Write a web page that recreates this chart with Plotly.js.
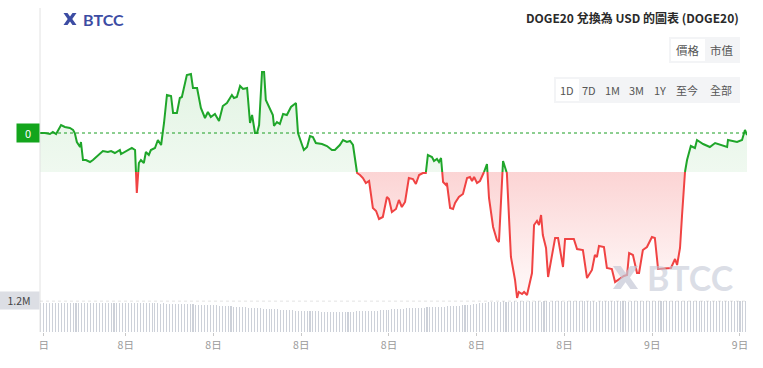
<!DOCTYPE html>
<html>
<head>
<meta charset="utf-8">
<script src="https://cdn.plot.ly/plotly-3.0.1.min.js"></script>
<style>
  html, body { margin: 0; padding: 0; background: #fff; }
  #chart { width: 763px; height: 368px; }
</style>
</head>
<body>
<div id="chart"></div>
<script>
// ---------------- DATA ----------------
// time in hours since 8日 00:00
const timeHours = [
  0.07,0.24,0.41,0.51,0.62,0.79,0.92,1.09,1.20,1.26,
  1.33,1.44,1.47,1.54,1.64,1.78,1.88,2.05,2.22,2.39,
  2.50,2.63,2.80,2.84,3.01,3.21,3.32,3.38,3.45,3.52,
  3.62,3.69,3.79,3.86,4.00,4.10,4.21,4.31,4.41,4.55,
  4.62,4.75,4.85,4.92,5.09,5.23,5.30,5.44,5.57,5.71,
  5.81,5.91,6.05,6.19,6.32,6.46,6.63,6.70,6.80,6.91,
  7.01,7.15,7.25,7.32,7.42,7.49,7.56,7.66,7.73,7.79,
  7.93,8.03,8.07,8.17,8.27,8.38,8.51,8.65,8.82,8.89,
  9.03,9.09,9.20,9.30,9.40,9.50,9.71,9.88,10.05,10.15,
  10.32,10.43,10.56,10.67,10.77,10.91,11.01,11.11,11.21,11.32,
  11.45,11.56,11.66,11.79,11.93,12.00,12.10,12.24,12.34,12.44,
  12.55,12.68,12.82,12.92,13.03,13.16,13.26,13.33,13.47,13.54,
  13.64,13.71,13.78,13.85,13.95,13.98,14.09,14.19,14.26,14.39,
  14.53,14.67,14.77,14.84,14.91,15.01,15.11,15.25,15.35,15.42,
  15.56,15.69,15.76,15.90,16.03,16.17,16.31,16.38,16.44,16.55,
  16.62,16.72,16.89,16.96,17.06,17.13,17.20,17.26,17.37,17.44,
  17.57,17.68,17.78,17.95,18.02,18.32,18.43,18.63,18.77,18.94,
  19.04,19.11,19.18,19.35,19.45,19.62,19.73,20.03,20.14,20.21,
  20.34,20.48,20.55,20.68,20.82,20.99,21.09,21.20,21.64,21.78,
  21.85,21.95,22.02,22.12,22.19,22.32,22.46,22.53,22.74,22.97,
  23.15,23.56,23.59,23.90,24.07,24.17,24.24
];
// price (relative units)
const priceValues = [
  167,167,166,168,166,175,173,172,170,167,
  158,153,158,140,140,138,140,145,149,148,
  149,147,150,146,149,152,150,107,137,140,
  137,148,145,150,152,160,155,177,205,204,
  187,187,202,203,225,226,212,212,192,182,
  188,183,186,179,194,197,205,202,203,214,
  211,212,177,185,167,167,175,228,228,200,
  192,185,174,178,176,186,185,193,197,167,
  155,150,153,164,163,157,156,154,150,150,
  155,160,158,159,155,127,125,122,117,119,
  92,89,81,83,103,101,88,91,100,93,
  98,122,121,116,125,127,127,145,143,139,
  141,138,142,118,115,117,92,91,97,103,
  106,122,123,119,123,117,119,128,136,102,
  73,60,58,139,127,43,20,2,8,6,
  8,5,27,75,79,75,85,65,52,23,
  45,62,62,33,61,61,51,50,22,30,
  45,43,54,53,32,31,18,24,25,47,
  45,27,27,50,53,63,62,31,32,41,
  35,52,85,128,140,154,152,160,156,153,
  157,153,160,158,160,170,165
];
const openPrice = 167;     // dashed "0" reference line
const splitLevel = 128;    // colour change level (green above / red below)

// volume (thousands), one bar every 6 minutes
const volumeK = [
  1118,1112,1120,1109,1116,1122,1110,1114,1119,1108,
  1115,1121,1112,1117,1106,1113,1120,1111,1116,1109,
  1114,1118,1107,1112,1119,1110,1115,1104,1111,1117,
  1108,1113,1102,1110,1105,1112,1098,1107,1101,1096,
  1104,1090,1099,1085,1093,1080,1088,1075,1082,1070,
  1066,1058,1062,1049,1055,1042,1047,1035,1040,1028,
  1021,1016,1008,1000,994,985,978,970,962,955,
  948,940,933,926,918,910,902,896,888,880,
  872,866,858,851,844,838,832,826,820,815,
  810,806,800,797,793,790,788,785,783,781,
  780,782,779,784,781,786,788,785,790,793,
  797,801,806,812,818,825,832,840,848,857,
  866,874,883,891,899,906,912,918,925,930,
  936,941,947,952,958,963,969,974,980,986,
  992,999,1006,1014,1022,1030,1040,1052,1065,1080,
  1098,1115,1132,1148,1160,1168,1172,1170,1175,1168,
  1172,1166,1178,1170,1174,1180,1168,1176,1171,1182,
  1175,1169,1185,1177,1172,1180,1188,1174,1179,1170,
  1183,1176,1190,1178,1173,1186,1181,1175,1192,1179,
  1171,1184,1177,1188,1180,1174,1190,1182,1176,1186,
  1179,1172,1187,1181,1193,1176,1184,1178,1190,1173,
  1185,1180,1176,1191,1183,1177,1188,1181,1174,1186,
  1190,1182,1178,1194,1185,1180,1188,1176,1192,1184,
  1179,1187,1193,1181,1176,1189,1185,1191,1178,1183,
  1188,1180
];
const volumeStartHour = 0.1;
const volumeStepHour = 0.1;
const volumeMaxLabel = 1200;

const xTickVals = [0.2, 3, 6, 9, 12, 15, 18, 21, 24];
const xTickText = ['日', '8日', '8日', '8日', '8日', '8日', '8日', '9日', '9日'];

const titleText = 'DOGE20 兌換為 USD 的圖表 (DOGE20)';
const toggleLabels = ['價格', '市值'];
const rangeLabels = ['1D', '7D', '1M', '3M', '1Y', '至今', '全部'];

// ---------------- BUILD ----------------
const GREEN = '#1fa62a';
const RED = '#f04343';
const FONT = '"Noto Sans CJK TC", "Noto Sans", "Open Sans", sans-serif';

// insert crossing points at the split level
const xs = [], ys = [];
for (let i = 0; i < priceValues.length; i++) {
  xs.push(timeHours[i]); ys.push(priceValues[i]);
  if (i < priceValues.length - 1) {
    const a = priceValues[i] - splitLevel, b = priceValues[i + 1] - splitLevel;
    if (a * b < 0) {
      const f = a / (a - b);
      xs.push(timeHours[i] + f * (timeHours[i + 1] - timeHours[i]));
      ys.push(splitLevel);
    }
  }
}
const base = ys.map(() => splitLevel);
const greenFill = ys.map(v => Math.max(v, splitLevel));
const redFill = ys.map(v => Math.min(v, splitLevel));
const greenLine = ys.map(v => (v >= splitLevel ? v : null));
const redLine = ys.map(v => (v <= splitLevel ? v : null));

const volTimes = volumeK.map((_, i) => volumeStartHour + i * volumeStepHour);

const traces = [
  { x: xs, y: base, mode: 'lines', line: { width: 0 }, hoverinfo: 'skip', showlegend: false },
  { x: xs, y: greenFill, mode: 'lines', line: { width: 0 }, fill: 'tonexty',
    fillcolor: 'rgba(32,168,40,0.09)',
    fillgradient: { type: 'vertical', start: splitLevel, stop: 230,
      colorscale: [[0, 'rgba(32,168,40,0.07)'], [1, 'rgba(32,168,40,0.13)']] },
    hoverinfo: 'skip', showlegend: false },
  { x: xs, y: base, mode: 'lines', line: { width: 0 }, hoverinfo: 'skip', showlegend: false },
  { x: xs, y: redFill, mode: 'lines', line: { width: 0 }, fill: 'tonexty',
    fillcolor: 'rgba(240,60,60,0.1)',
    fillgradient: { type: 'vertical', start: splitLevel, stop: 0,
      colorscale: [[0, 'rgba(240,60,60,0.22)'], [1, 'rgba(240,60,60,0.02)']] },
    hoverinfo: 'skip', showlegend: false },
  { type: 'bar', x: volTimes, y: volumeK, yaxis: 'y2', width: 0.036,
    marker: { color: '#cdd1d9', line: { width: 0 } }, hoverinfo: 'skip', showlegend: false },
  { x: xs, y: redLine, mode: 'lines', line: { color: RED, width: 2 }, connectgaps: false,
    hoverinfo: 'skip', showlegend: false },
  { x: xs, y: greenLine, mode: 'lines', line: { color: GREEN, width: 2 }, connectgaps: false,
    hoverinfo: 'skip', showlegend: false }
];

// pixel -> paper helpers for decorations
const ML = 40, MR = 16, MT = 20, MB = 36, W = 763, H = 368;
const PW = W - ML - MR, PH = H - MT - MB;
const px = p => (p - ML) / PW;
const py = p => (H - MB - p) / PH;

const shapes = [
  // left axis line
  { type: 'line', xref: 'paper', yref: 'paper', x0: 0, x1: 0, y0: 0, y1: py(8),
    line: { color: '#e2e2e2', width: 1 } },
  // open price dotted line
  { type: 'line', xref: 'paper', yref: 'y', x0: 0, x1: 1, y0: openPrice, y1: openPrice,
    line: { color: '#1a9e22', width: 1, dash: 'dot' } },
  // volume max dotted line
  { type: 'line', xref: 'paper', yref: 'y2', x0: 0, x1: 1, y0: volumeMaxLabel, y1: volumeMaxLabel,
    line: { color: '#c4c4c4', width: 1, dash: 'dot' } },
  // toggle container
  { type: 'rect', xref: 'paper', yref: 'paper', x0: px(669), x1: px(740), y0: py(63), y1: py(37),
    fillcolor: '#f3f4f6', line: { width: 0 }, layer: 'above' },
  { type: 'rect', xref: 'paper', yref: 'paper', x0: px(671), x1: px(705), y0: py(61), y1: py(39),
    fillcolor: '#ffffff', line: { width: 0 }, layer: 'above' },
  // range container
  { type: 'rect', xref: 'paper', yref: 'paper', x0: px(554), x1: px(740), y0: py(103), y1: py(77),
    fillcolor: '#f3f4f6', line: { width: 0 }, layer: 'above' },
  { type: 'rect', xref: 'paper', yref: 'paper', x0: px(556), x1: px(579), y0: py(101), y1: py(79),
    fillcolor: '#ffffff', line: { width: 0 }, layer: 'above' }
];

const annotations = [
  { xref: 'paper', yref: 'paper', x: px(741), y: py(17), xanchor: 'right', yanchor: 'middle',
    text: '<b>' + titleText + '</b>', showarrow: false,
    font: { family: FONT, size: 12, color: '#2a2a2a' } },
  { xref: 'paper', yref: 'paper', x: px(81), y: py(19), xanchor: 'left', yanchor: 'middle',
    text: '<b>BTCC</b>', showarrow: false,
    font: { family: 'Lato, "Open Sans", sans-serif', size: 16, color: '#3c4ca3' } },
  { xref: 'paper', yref: 'paper', x: px(645), y: py(277), xanchor: 'left', yanchor: 'middle',
    text: '<b>BTCC</b>', showarrow: false,
    font: { family: 'Lato, "Open Sans", sans-serif', size: 34, color: 'rgba(196,200,214,0.6)' } },
  { xref: 'paper', yref: 'y', x: 0, y: openPrice, xanchor: 'right', yanchor: 'middle',
    text: '0', showarrow: false, bgcolor: '#13a51c', width: 20, height: 16, borderpad: 1,
    font: { family: FONT, size: 11, color: '#ffffff' } },
  { xref: 'paper', yref: 'y2', x: 0, y: volumeMaxLabel, xanchor: 'right', yanchor: 'middle',
    text: '1.2M', showarrow: false, bgcolor: '#dcdee4', width: 38, height: 15, borderpad: 1,
    font: { family: FONT, size: 10.5, color: '#444' } }
];
const togglePos = [688, 722];
toggleLabels.forEach((s, i) => annotations.push({
  xref: 'paper', yref: 'paper', x: px(togglePos[i]), y: py(50), xanchor: 'center', yanchor: 'middle',
  text: s, showarrow: false, font: { family: FONT, size: 11.5, color: '#555' } }));
const rangePos = [567, 589, 612, 636, 660, 687, 721];
rangeLabels.forEach((s, i) => annotations.push({
  xref: 'paper', yref: 'paper', x: px(rangePos[i]), y: py(90), xanchor: 'center', yanchor: 'middle',
  text: s, showarrow: false, font: { family: FONT, size: 11, color: '#555' } }));

function logoSvg(color) {
  const svg = '<svg xmlns="http://www.w3.org/2000/svg" viewBox="0 0 14 14">' +
    '<path fill="' + color + '" d="M0.5 1 L4.5 1 L7 4.6 L9.5 1 L13.5 1 L9.3 7 L13.5 13 L9.5 13 L7 9.4 L4.5 13 L0.5 13 L4.7 7 Z"/></svg>';
  return 'data:image/svg+xml;base64,' + btoa(svg);
}
const images = [
  { source: logoSvg('#3c4ca3'), xref: 'paper', yref: 'paper', x: px(63), y: py(12),
    sizex: 14 / PW, sizey: 14 / PH, xanchor: 'left', yanchor: 'top', layer: 'above' },
  { source: logoSvg('rgba(196,200,214,0.7)'), xref: 'paper', yref: 'paper', x: px(612), y: py(264),
    sizex: 27 / PW, sizey: 27 / PH, xanchor: 'left', yanchor: 'top', layer: 'above' }
];

const layout = {
  width: W, height: H,
  margin: { l: ML, r: MR, t: MT, b: MB, pad: 0 },
  paper_bgcolor: '#ffffff', plot_bgcolor: '#ffffff',
  showlegend: false, hovermode: false, bargap: 0,
  font: { family: FONT },
  xaxis: {
    range: [0.07, 24.24], showgrid: false, zeroline: false, showline: false,
    tickvals: xTickVals, ticktext: xTickText,
    ticks: 'outside', ticklen: 3, tickcolor: '#c8c8c8',
    tickfont: { family: FONT, size: 10.5, color: '#9a9a9a' }, fixedrange: true
  },
  yaxis: { domain: [0, 1], range: [-32, 280], visible: false, fixedrange: true },
  yaxis2: { domain: [0, 0.1], range: [0, volumeMaxLabel], visible: false, fixedrange: true, anchor: 'x' },
  shapes: shapes, annotations: annotations, images: images
};

Plotly.newPlot('chart', traces, layout, { displayModeBar: false, staticPlot: true });
</script>
</body>
</html>
